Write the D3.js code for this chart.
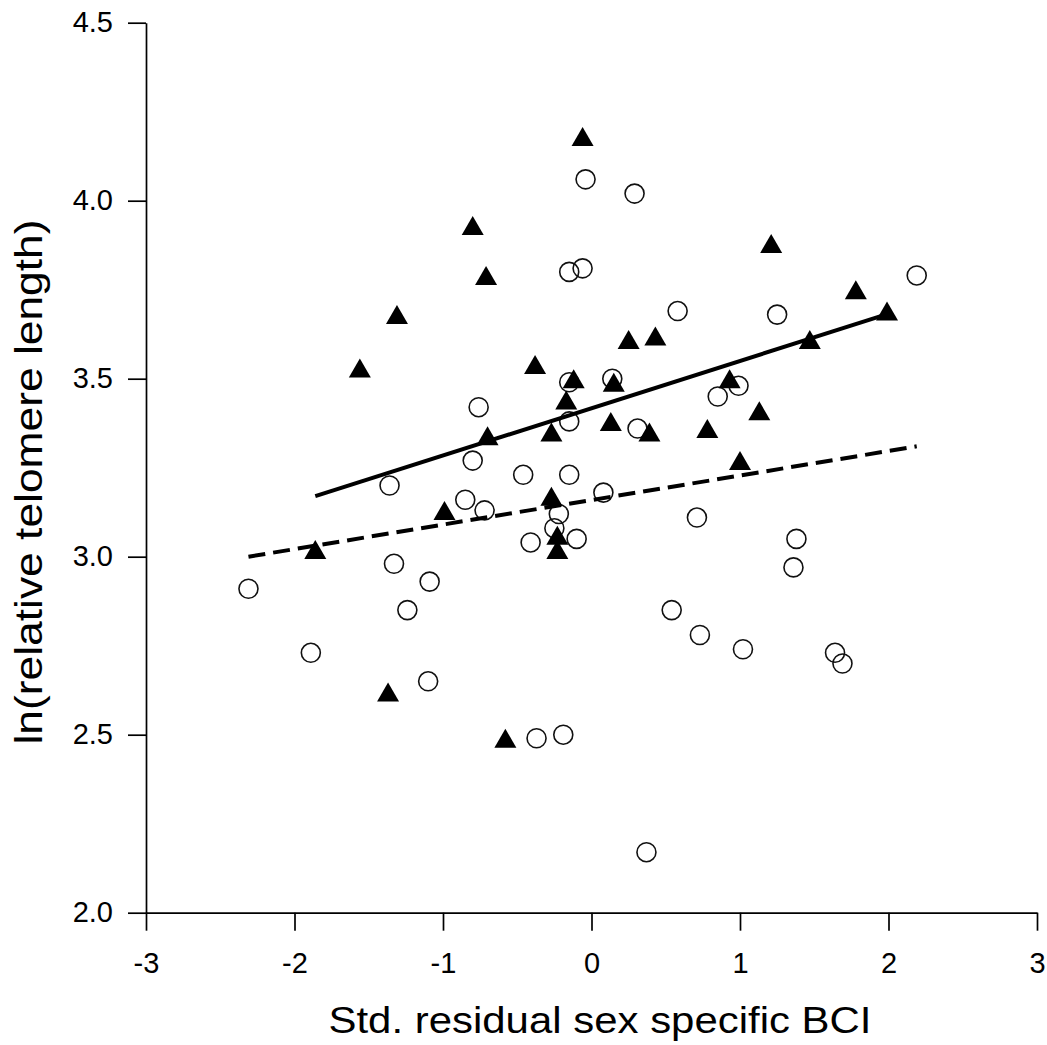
<!DOCTYPE html>
<html>
<head>
<meta charset="utf-8">
<script src="https://cdn.jsdelivr.net/npm/d3@7"></script>
<style>
  body { margin: 0; background: #fff; }
  svg { display: block; }
  text { font-family: "Liberation Sans", Arial, sans-serif; fill: #000; }
</style>
</head>
<body>
<div id="chart"></div>
<script>
var width = 1047, height = 1045;

// filled triangles (one group)
var triX = [-0.06, -0.80, -0.71, -1.31, -1.56, 1.21, 1.78, 1.99, 1.47, 0.25,
            0.43, -0.38, -0.12, 0.15, 0.93, 1.13, -0.17, 0.13, 0.39, 0.78,
            -0.27, -0.70, 1.00, -0.27, -0.23, -0.23, -0.99, -1.86, -1.37, -0.58];
var triY = [4.18, 3.93, 3.79, 3.68, 3.53, 3.88, 3.75, 3.69, 3.61, 3.61,
            3.62, 3.54, 3.50, 3.49, 3.50, 3.41, 3.44, 3.38, 3.35, 3.36,
            3.35, 3.34, 3.27, 3.17, 3.06, 3.02, 3.13, 3.02, 2.62, 2.49];

// open circles (other group)
var circX = [-0.04, 0.29, -0.15, -0.06, 0.58, 1.25, 2.19, -0.15, 0.14, -0.76,
             0.99, 0.85, -0.15, 0.31, -0.80, -0.46, -0.15, 0.08, -0.85, -0.72,
             -0.22, -0.25, -0.10, -0.41, 0.71, 1.38, 1.36, 0.54, 0.73, 1.02,
             1.64, 1.69, -1.36, -1.33, -2.31, -1.09, -1.24, -1.89, -1.10, -0.37,
             -0.19, 0.37];
var circY = [4.06, 4.02, 3.80, 3.81, 3.69, 3.68, 3.79, 3.49, 3.50, 3.42,
             3.48, 3.45, 3.38, 3.36, 3.27, 3.23, 3.23, 3.18, 3.16, 3.13,
             3.12, 3.08, 3.05, 3.04, 3.11, 3.05, 2.97, 2.85, 2.78, 2.74,
             2.73, 2.70, 3.20, 2.98, 2.91, 2.93, 2.85, 2.73, 2.65, 2.49,
             2.50, 2.17];

// regression lines: [x, y] end points
var fitTri = [[-1.86, 3.17], [1.98, 3.68]];
var fitCirc = [[-2.31, 3.00], [2.19, 3.31]];

var xTicks = [-3, -2, -1, 0, 1, 2, 3];
var yTicks = [2.0, 2.5, 3.0, 3.5, 4.0, 4.5];

var svg = d3.select('#chart').append('svg')
  .attr('width', width)
  .attr('height', height);

var x = d3.scaleLinear().domain([-3, 3]).range([146, 1037]);
var y = d3.scaleLinear().domain([2, 4.5]).range([912.7, 22.7]);

// axes
var xAxis = svg.append('g')
  .attr('transform', 'translate(0,' + y(2) + ')')
  .call(d3.axisBottom(x).tickValues(xTicks).tickFormat(d3.format('d'))
    .tickSize(18).tickSizeOuter(0).tickPadding(22));

var yAxis = svg.append('g')
  .attr('transform', 'translate(' + x(-3) + ',0)')
  .call(d3.axisLeft(y).tickValues(yTicks).tickFormat(d3.format('.1f'))
    .tickSize(18).tickSizeOuter(0).tickPadding(15));

[xAxis, yAxis].forEach(function(g) {
  g.select('.domain').attr('stroke', '#000').attr('stroke-width', 1.7);
  g.selectAll('.tick line').attr('stroke', '#000').attr('stroke-width', 1.7);
  g.selectAll('.tick text')
    .style('font-family', '"Liberation Sans", Arial, sans-serif')
    .style('font-size', '29px')
    .attr('fill', '#000')
    .text(function(d) { return d < 0 ? '-' + Math.abs(d) : d3.select(this).text(); });
});
yAxis.selectAll('.tick text').text(function(d) { return d3.format('.1f')(d); });

// axis titles
svg.append('text')
  .attr('x', 600)
  .attr('y', 1033)
  .attr('text-anchor', 'middle')
  .attr('textLength', 543)
  .attr('lengthAdjust', 'spacingAndGlyphs')
  .style('font-size', '37px')
  .text('Std. residual sex specific BCI');

svg.append('text')
  .attr('transform', 'translate(42,482) rotate(-90)')
  .attr('text-anchor', 'middle')
  .attr('textLength', 525)
  .attr('lengthAdjust', 'spacingAndGlyphs')
  .style('font-size', '39px')
  .text('ln(relative telomere length)');

// points
var plot = svg.append('g');

plot.selectAll('circle.pt')
  .data(d3.range(circX.length))
  .join('circle')
  .attr('class', 'pt')
  .attr('cx', function(i) { return x(circX[i]); })
  .attr('cy', function(i) { return y(circY[i]); })
  .attr('r', 9.5)
  .attr('fill', 'none')
  .attr('stroke', '#111')
  .attr('stroke-width', 1.6);

var tri = 'M0,-9.5L11,9.5L-11,9.5Z';
plot.selectAll('path.tri')
  .data(d3.range(triX.length))
  .join('path')
  .attr('class', 'tri')
  .attr('d', tri)
  .attr('transform', function(i) { return 'translate(' + x(triX[i]) + ',' + y(triY[i]) + ')'; })
  .attr('fill', '#000');

// fit lines
var line = d3.line()
  .x(function(d) { return x(d[0]); })
  .y(function(d) { return y(d[1]); });

plot.append('path')
  .datum(fitTri)
  .attr('d', line)
  .attr('fill', 'none')
  .attr('stroke', '#000')
  .attr('stroke-width', 4);

plot.append('path')
  .datum(fitCirc)
  .attr('d', line)
  .attr('fill', 'none')
  .attr('stroke', '#000')
  .attr('stroke-width', 4)
  .attr('stroke-dasharray', '17,8');
</script>
</body>
</html>
